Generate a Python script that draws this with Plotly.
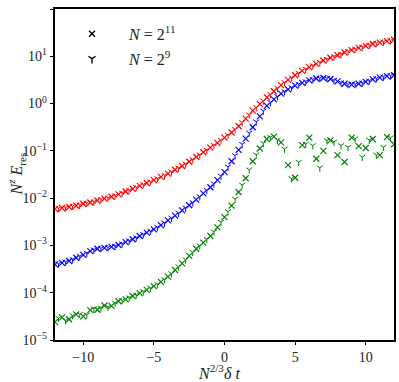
import numpy as np
import plotly.graph_objects as go

# x positions (N^{2/3} delta t)
x_n11 = np.round(np.arange(-12.0, 12.001, 0.5), 2)       # N = 2^11 samples
x_n9 = np.round(np.arange(-11.75, 11.751, 0.5), 2)       # N = 2^9 samples

# ---- red series ----
red_n11 = [5.9e-3, 6.2e-3, 6.5e-3, 6.9e-3, 7.6e-3, 8.1e-3, 8.9e-3, 9.8e-3, 1.07e-2, 1.20e-2,
           1.38e-2, 1.58e-2, 1.82e-2, 2.09e-2, 2.40e-2, 2.82e-2, 3.31e-2, 3.98e-2, 4.79e-2, 5.89e-2,
           7.41e-2, 9.33e-2, 0.117, 0.148, 0.191, 0.245, 0.331, 0.479, 0.708, 0.977,
           1.35, 1.82, 2.45, 3.16, 3.98, 4.90, 5.89, 6.92, 8.13, 9.33,
           10.5, 12.0, 13.5, 15.1, 16.6, 18.2, 19.5, 20.9, 22.4]
red_n9 = [6.1e-3, 6.3e-3, 6.8e-3, 7.2e-3, 7.9e-3, 8.4e-3, 9.4e-3, 1.02e-2, 1.13e-2, 1.29e-2,
          1.47e-2, 1.70e-2, 1.95e-2, 2.24e-2, 2.60e-2, 3.05e-2, 3.63e-2, 4.37e-2, 5.30e-2, 6.60e-2,
          8.30e-2, 0.104, 0.132, 0.168, 0.216, 0.285, 0.40, 0.58, 0.83, 1.15,
          1.57, 2.12, 2.80, 3.55, 4.42, 5.38, 6.40, 7.50, 8.70, 9.90,
          11.2, 12.8, 14.3, 15.8, 17.4, 18.9, 20.2, 21.6]

# ---- blue series ----
blue_n11 = [3.98e-4, 4.27e-4, 4.68e-4, 5.50e-4, 6.31e-4, 7.59e-4, 8.51e-4, 8.91e-4, 9.33e-4, 1.02e-3,
            1.17e-3, 1.35e-3, 1.58e-3, 1.86e-3, 2.19e-3, 2.69e-3, 3.39e-3, 4.27e-3, 5.50e-3, 7.08e-3,
            9.33e-3, 1.26e-2, 1.70e-2, 2.40e-2, 3.55e-2, 6.03e-2, 0.105, 0.182, 0.316, 0.537,
            0.891, 1.23, 1.62, 2.00, 2.40, 2.75, 3.09, 3.39, 3.47, 3.31,
            2.95, 2.63, 2.51, 2.63, 2.88, 3.24, 3.55, 3.80, 3.98]
blue_n9 = [4.1e-4, 4.5e-4, 5.1e-4, 5.9e-4, 6.9e-4, 8.1e-4, 8.7e-4, 9.1e-4, 9.7e-4, 1.09e-3,
           1.26e-3, 1.46e-3, 1.72e-3, 2.02e-3, 2.42e-3, 3.02e-3, 3.80e-3, 4.85e-3, 6.25e-3, 8.10e-3,
           1.08e-2, 1.47e-2, 2.02e-2, 2.92e-2, 4.60e-2, 8.0e-2, 0.138, 0.240, 0.415, 0.70,
           1.06, 1.42, 1.82, 2.20, 2.58, 2.92, 3.25, 3.45, 3.42, 3.12,
           2.78, 2.55, 2.55, 2.75, 3.05, 3.40, 3.68, 3.90]

# ---- green series ----
green_n11 = [2.40e-5, 3.02e-5, 2.75e-5, 3.47e-5, 3.16e-5, 4.27e-5, 4.37e-5, 5.37e-5, 5.25e-5, 6.61e-5,
             7.24e-5, 8.51e-5, 9.77e-5, 1.15e-4, 1.38e-4, 1.70e-4, 2.19e-4, 3.02e-4, 4.17e-4, 6.03e-4,
             8.51e-4, 1.15e-3, 1.58e-3, 2.40e-3, 3.98e-3, 6.92e-3, 1.35e-2, 2.63e-2, 6.03e-2, 0.112,
             0.178, 0.200, 0.151, 0.050, 0.027, 0.132, 0.190, 0.068, 0.100, 0.166,
             0.081, 0.058, 0.190, 0.126, 0.115, 0.178, 0.081, 0.195, 0.138]
green_n9 = [2.9e-5, 2.6e-5, 3.3e-5, 3.5e-5, 3.4e-5, 4.6e-5, 4.8e-5, 5.0e-5, 6.1e-5, 6.9e-5,
            7.9e-5, 9.0e-5, 1.06e-4, 1.26e-4, 1.52e-4, 1.92e-4, 2.55e-4, 3.55e-4, 5.0e-4, 7.2e-4,
            9.9e-4, 1.35e-3, 1.95e-3, 3.1e-3, 5.2e-3, 9.6e-3, 1.9e-2, 4.0e-2, 8.3e-2, 0.145,
            0.195, 0.170, 0.110, 0.026, 0.058, 0.140, 0.130, 0.044, 0.165, 0.155,
            0.130, 0.120, 0.180, 0.074, 0.170, 0.082, 0.120, 0.190]

series = [("red", red_n11, red_n9), ("blue", blue_n11, blue_n9), ("green", green_n11, green_n9)]
color_map = {"red": "#ff0000", "blue": "#0000ff", "green": "#008000"}

y_tickvals = [1e-5, 1e-4, 1e-3, 1e-2, 1e-1, 1e0, 1e1, 1e2]
y_ticktext = ["10<sup>−5</sup>", "10<sup>−4</sup>", "10<sup>−3</sup>", "10<sup>−2</sup>",
              "10<sup>−1</sup>", "10<sup>0</sup>", "10<sup>1</sup>", "10<sup>2</sup>"]
x_tickvals = [-10, -5, 0, 5, 10]
x_ticktext = ["−10", "−5", "0", "5", "10"]

SERIF = "Liberation Serif, DejaVu Serif, serif"

fig = go.Figure()
for name, v11, v9 in series:
    c = color_map[name]
    fig.add_trace(go.Scatter(x=x_n9, y=v9, mode="markers", showlegend=False,
                             marker=dict(symbol="y-down", size=5, color=c,
                                         line=dict(color=c, width=1))))
    fig.add_trace(go.Scatter(x=x_n11, y=v11, mode="markers", showlegend=False,
                             marker=dict(symbol="x-thin", size=6, color=c,
                                         line=dict(color=c, width=1.2))))

# legend entries (black markers)
fig.add_trace(go.Scatter(x=[None], y=[None], mode="markers", name="<i>N</i> = 2<sup>11</sup>",
                         legendgroup="a",
                         marker=dict(symbol="x-thin", size=6, color="black",
                                     line=dict(color="black", width=1.4))))
fig.add_trace(go.Scatter(x=[None], y=[None], mode="markers", name="<i>N</i> = 2<sup>9</sup>",
                         legendgroup="b",
                         marker=dict(symbol="y-down", size=6, color="black",
                                     line=dict(color="black", width=1.4))))

axis_common = dict(showline=True, linecolor="black", linewidth=1.5, mirror=True,
                   ticks="outside", ticklen=3.5, tickwidth=1, tickcolor="black",
                   showgrid=False, zeroline=False, automargin=False,
                   tickfont=dict(family=SERIF, size=14, color="#222"))

fig.update_layout(
    width=399, height=382,
    margin=dict(l=55, r=5, t=9, b=42),
    paper_bgcolor="white", plot_bgcolor="white",
    showlegend=True,
    legend=dict(x=0.0, y=0.976, xanchor="left", yanchor="top",
                bgcolor="rgba(0,0,0,0)", itemwidth=64, tracegroupgap=1,
                font=dict(family=SERIF, size=16, color="#222")),
    xaxis=dict(range=[-12, 12], tickvals=x_tickvals, ticktext=x_ticktext, **axis_common),
    yaxis=dict(type="log", range=[-5, 2], tickvals=y_tickvals, ticktext=y_ticktext, **axis_common),
    annotations=[
        dict(text="<i>N</i><sup>2/3</sup><i>δ</i> <i>t</i>", xref="paper", yref="paper",
             x=0.485, y=-0.097, xanchor="center", yanchor="middle", showarrow=False,
             font=dict(family=SERIF, size=16, color="#222")),
        dict(text="<i>N</i><sup><i>z</i></sup> <i>E</i><sub>res</sub>", xref="paper", yref="paper",
             x=-0.115, y=0.5, xanchor="center", yanchor="middle", textangle=-90, showarrow=False,
             font=dict(family=SERIF, size=16, color="#222")),
    ],
)

fig.write_html("out.html", config={"displayModeBar": False},
               post_script="document.body.style.margin='0';")
